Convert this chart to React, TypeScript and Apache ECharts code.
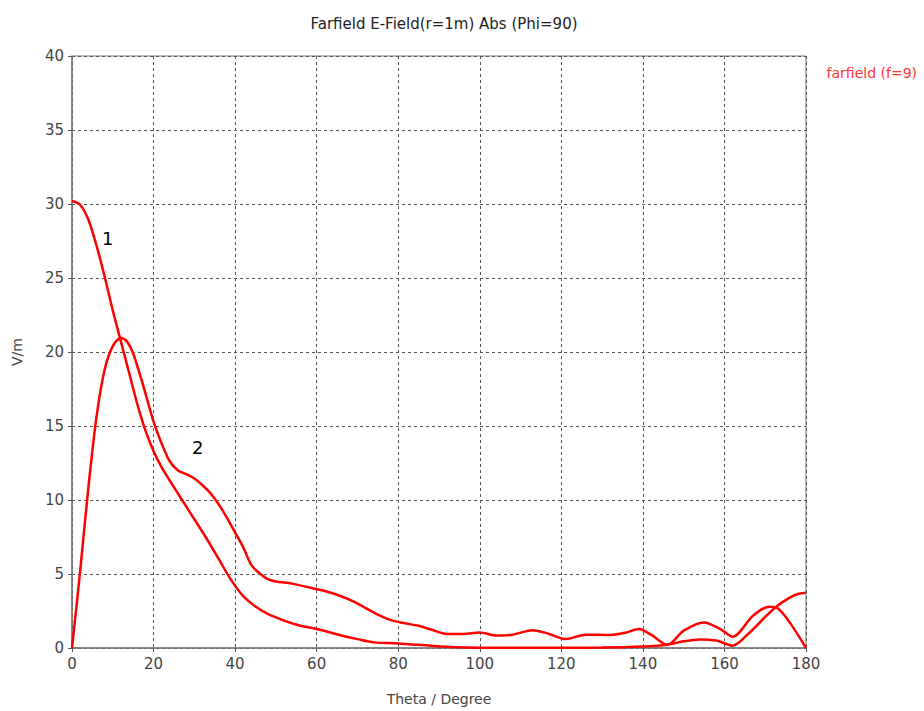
import React, { useEffect, useRef } from "react";
import * as echarts from "echarts";

const xTicks = [0, 20, 40, 60, 80, 100, 120, 140, 160, 180];
const yTicks = [0, 5, 10, 15, 20, 25, 30, 35, 40];

// Curve "1" (Theta, V/m)
const curve1: [number, number][] = [
  [0, 30.2], [2, 29.95], [4, 28.95], [6, 27.2], [8, 25.1], [10, 22.8], [12, 20.7],
  [14, 18.6], [16, 16.5], [18, 14.7], [20, 13.3], [22, 12.2], [24, 11.3], [27, 10.0],
  [30, 8.7], [33, 7.4], [36, 6.0], [39, 4.6], [42, 3.5], [45, 2.8], [48, 2.3], [52, 1.85],
  [56, 1.5], [60, 1.28], [66, 0.85], [70, 0.6], [74, 0.38], [80, 0.31], [88, 0.15],
  [94, 0.05], [100, 0.02], [110, 0.02], [120, 0.02], [130, 0.03], [140, 0.1],
  [146, 0.22], [150, 0.45], [154, 0.58], [158, 0.5], [162, 0.16], [166, 1.0],
  [170, 2.1], [173, 2.85], [176, 3.4], [178, 3.65], [180, 3.74],
];

// Curve "2" (Theta, V/m)
const curve2: [number, number][] = [
  [0, 0], [2, 5.2], [4, 10.8], [6, 15.6], [8, 18.8], [10, 20.4],
  [12, 20.95], [13.5, 20.7], [15, 19.9], [17.5, 17.7], [20, 15.3], [22, 13.8],
  [24, 12.6], [26, 12.0], [28, 11.75], [30, 11.45], [32, 11.0], [34, 10.45], [36, 9.7],
  [38, 8.8], [40, 7.8], [42, 6.8], [44, 5.6], [46, 5.05], [48, 4.65], [50, 4.5],
  [54, 4.35], [58, 4.1], [62, 3.85], [66, 3.5], [69, 3.15], [72, 2.7], [75, 2.25],
  [78, 1.9], [81, 1.7], [85, 1.5], [88, 1.25], [92, 0.95], [96, 0.95], [100, 1.05],
  [104, 0.85], [108, 0.9], [113, 1.2], [117, 0.95], [121, 0.6], [126, 0.9],
  [132, 0.88], [136, 1.05], [139, 1.28], [142, 0.9], [146, 0.22], [150, 1.17],
  [155, 1.73], [159, 1.28], [162, 0.76], [167, 2.18], [171, 2.79], [173, 2.7],
  [176, 1.73], [180, 0],
];

const FONT = "DejaVu Sans";

export default function App() {
  const ref = useRef<HTMLDivElement>(null);
  useEffect(() => {
    if (!ref.current) return;
    const chart = echarts.init(ref.current, undefined, { renderer: "svg" });
    const lineStyle = { color: "#ff0000", width: 2.5 };
    chart.setOption({
      animation: false,
      backgroundColor: "#ffffff",
      title: {
        text: "Farfield E-Field(r=1m) Abs (Phi=90)",
        left: 439,
        textAlign: "center",
        top: 11,
        textStyle: { fontFamily: FONT, fontSize: 15, fontWeight: "normal", color: "#222" },
      },
      grid: {
        left: 72, right: 118, top: 56, bottom: 62,
        show: true, borderColor: "#777", borderWidth: 1,
      },
      xAxis: {
        type: "value", min: 0, max: 180, interval: 20,
        name: "Theta / Degree", nameLocation: "middle", nameGap: 44,
        nameTextStyle: { fontFamily: FONT, fontSize: 14, color: "#444" },
        axisLine: { show: true, lineStyle: { color: "#777", width: 1.5 } },
        axisTick: { show: true, length: 4, lineStyle: { color: "#555" } },
        axisLabel: {
          fontFamily: FONT, fontSize: 15, color: "#444", margin: 8,
          formatter: (v: number) => (xTicks.includes(v) ? String(v) : ""),
        },
        splitLine: { show: true, lineStyle: { color: "#555", type: [3, 3], width: 1 } },
      },
      yAxis: {
        type: "value", min: 0, max: 40, interval: 5,
        name: "V/m", nameLocation: "middle", nameGap: 48, nameRotate: 90,
        nameTextStyle: { fontFamily: FONT, fontSize: 14, color: "#444" },
        axisLine: { show: true, lineStyle: { color: "#777", width: 1.5 } },
        axisTick: { show: true, length: 4, lineStyle: { color: "#555" } },
        axisLabel: {
          fontFamily: FONT, fontSize: 15, color: "#444", margin: 8,
          formatter: (v: number) => (yTicks.includes(v) ? String(v) : ""),
        },
        splitLine: { show: true, lineStyle: { color: "#555", type: [3, 3], width: 1 } },
      },
      legend: {
        show: true,
        data: [{ name: "farfield (f=9)", icon: "none" }],
        right: 2, top: 61,
        itemWidth: 0, itemGap: 0,
        textStyle: { fontFamily: FONT, fontSize: 14, color: "#ff3333" },
      },
      graphic: [
        { type: "text", x: 102, y: 229, style: { text: "1", fontFamily: FONT, fontSize: 18, fill: "#000" } },
        { type: "text", x: 192, y: 438, style: { text: "2", fontFamily: FONT, fontSize: 18, fill: "#000" } },
      ],
      series: [
        {
          name: "farfield (f=9)", type: "line", data: curve1, showSymbol: false,
          smooth: 0.3, lineStyle, itemStyle: { color: "#ff0000" },
        },
        {
          name: "farfield (f=9) ", type: "line", data: curve2, showSymbol: false,
          smooth: 0.3, lineStyle, itemStyle: { color: "#ff0000" },
        },
      ],
    });
    return () => chart.dispose();
  }, []);
  return <div ref={ref} style={{ width: 924, height: 711, position: "absolute", left: 0, top: 0 }} />;
}
